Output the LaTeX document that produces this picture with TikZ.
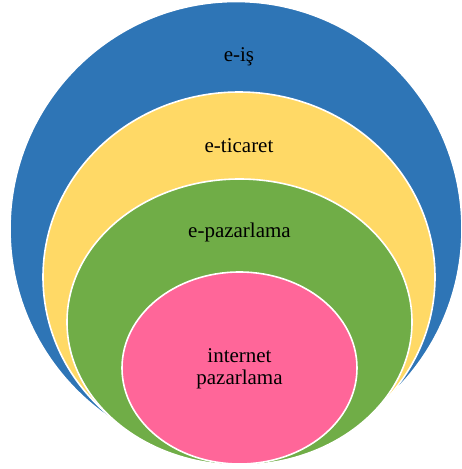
\documentclass[tikz,border=0pt]{standalone}
\usepackage{fontspec}
\setmainfont{Liberation Serif}
\usetikzlibrary{shapes.geometric,calc,positioning}
\definecolor{isblue}{RGB}{46,117,182}
\definecolor{ticyellow}{RGB}{255,217,102}
\definecolor{pazgreen}{RGB}{112,173,71}
\definecolor{netpink}{RGB}{255,102,153}
\tikzset{
    ring/.style={ellipse, draw=white, line width=1.6pt, inner sep=0pt},
    ringtext/.style={font=\fontsize{21}{22}\selectfont, align=center, text=black, inner sep=0pt},
}
\begin{document}
\begin{tikzpicture}[x=1pt, y=-1pt]
	\useasboundingbox (0,0) rectangle (462,469);
%
	\node[ring, fill=isblue, minimum width=452pt, minimum height=455pt] (is) at (236,229) {};
	\node[ring, fill=ticyellow, minimum width=392pt, minimum height=370pt] (ticaret) at (239,277) {};
	\node[ring, fill=pazgreen, minimum width=345pt, minimum height=286pt] (pazarlama) at (239.5,322) {};
	\node[ring, fill=netpink, minimum width=235pt, minimum height=192pt] (internet) at (239.5,368) {};
%
	\node[ringtext] (isText) at ($(is.north)+(3,56)$) {e-iş};
	\node[ringtext] (ticaretText) at ($(ticaret.north)+(0,54)$) {e-ticaret};
	\node[ringtext] (pazarlamaText) at ($(pazarlama.north)+(0,54)$) {e-pazarlama};
	\node[ringtext] (internetText) at ($(internet.center)+(0,1)$) {internet\\pazarlama};
\end{tikzpicture}
\end{document}
